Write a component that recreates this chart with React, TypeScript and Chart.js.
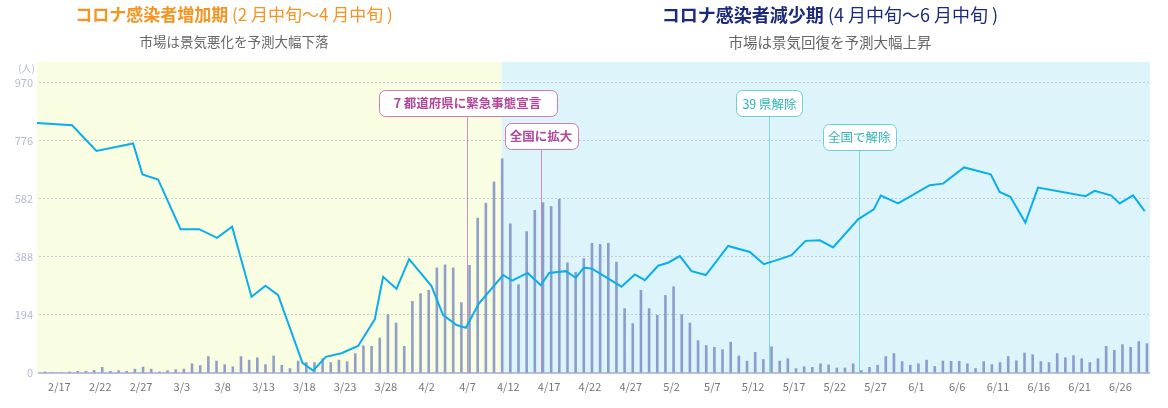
import React, { useEffect, useRef } from 'react';
import { Chart, registerables } from 'chart.js';

Chart.register(...registerables);

const FONT = '"Noto Sans CJK JP", "Noto Sans", sans-serif';

const categories = [
  '2/15','2/16','2/17','2/18','2/19','2/20','2/21','2/22','2/23','2/24','2/25','2/26','2/27','2/28','2/29',
  '3/1','3/2','3/3','3/4','3/5','3/6','3/7','3/8','3/9','3/10','3/11','3/12','3/13','3/14','3/15','3/16',
  '3/17','3/18','3/19','3/20','3/21','3/22','3/23','3/24','3/25','3/26','3/27','3/28','3/29','3/30','3/31',
  '4/1','4/2','4/3','4/4','4/5','4/6','4/7','4/8','4/9','4/10','4/11','4/12','4/13','4/14','4/15',
  '4/16','4/17','4/18','4/19','4/20','4/21','4/22','4/23','4/24','4/25','4/26','4/27','4/28','4/29','4/30',
  '5/1','5/2','5/3','5/4','5/5','5/6','5/7','5/8','5/9','5/10','5/11','5/12','5/13','5/14','5/15','5/16',
  '5/17','5/18','5/19','5/20','5/21','5/22','5/23','5/24','5/25','5/26','5/27','5/28','5/29','5/30','5/31',
  '6/1','6/2','6/3','6/4','6/5','6/6','6/7','6/8','6/9','6/10','6/11','6/12','6/13','6/14','6/15',
  '6/16','6/17','6/18','6/19','6/20','6/21','6/22','6/23','6/24','6/25','6/26','6/27','6/28','6/29',
];

// Daily new infections (人)
const dailyCases = [
  5, 3, 3, 5, 7, 7, 10, 20, 7, 9, 7, 14, 21, 14, 5,
  9, 12, 14, 32, 26, 56, 41, 29, 22, 56, 44, 52, 29, 58, 27, 16,
  41, 36, 36, 49, 36, 44, 39, 66, 92, 90, 118, 196, 168, 90, 240,
  266, 277, 352, 362, 352, 236, 360, 518, 568, 639, 716, 499, 296, 473, 544,
  570, 557, 581, 369, 337, 383, 434, 430, 434, 371, 216, 166, 277, 216, 194,
  260, 289, 196, 168, 109, 93, 87, 79, 104, 58, 41, 70, 46, 89, 41, 49,
  16, 22, 20, 32, 28, 18, 18, 32, 9, 20, 27, 56, 66, 39, 27,
  32, 44, 23, 41, 40, 40, 32, 16, 39, 29, 36, 56, 42, 68, 62,
  39, 36, 66, 52, 59, 49, 36, 49, 90, 77, 96, 87, 106, 99,
];

// Market index line (position in days from 2/15, level on the same axis)
const marketDays = [
  -0.75, 3.55, 6.54, 11.03, 12.18, 14.09, 16.84, 19.12, 21.32, 23.16, 25.54, 27.25, 28.8,
  31.78, 33.08, 34.64, 36.56, 38.6, 40.64, 41.66, 43.3, 44.85, 47.59, 49.01, 50.66, 51.8,
  53.39, 56.37, 57.47, 59.36, 60.99, 62, 64.05, 65.27, 66.25, 67.2, 70.87, 72.5, 73.73,
  75.36, 76.58, 78.02, 79.45, 81.2, 83.94, 86.59, 88.31, 90.27, 91.7, 93.42, 95.17, 96.8,
  99.86, 101.78, 102.64, 104.76, 108.64, 110.27, 112.85, 116.11, 117.2, 118.51, 120.35,
  121.9, 127.74, 128.84, 130.89, 131.91, 133.54, 134.97,
];
const marketLevels = [
  834, 827, 741, 766, 663, 646, 480, 480, 451, 488, 254, 291, 260,
  34, 8, 54, 66, 90, 179, 321, 281, 380, 290, 193, 160, 151,
  232, 327, 308, 334, 293, 334, 340, 318, 351, 349, 288, 329, 310,
  358, 368, 390, 340, 327, 424, 404, 363, 380, 393, 441, 443, 419,
  513, 546, 592, 566, 627, 632, 686, 663, 604, 588, 502,
  619, 590, 608, 592, 566, 593, 540,
];

const yTicks = [0, 194, 388, 582, 776, 970];
const yMax = 1038;
const xTickLabels = ['2/17','2/22','2/27','3/3','3/8','3/13','3/18','3/23','3/28','4/2','4/7','4/12','4/17','4/22','4/27','5/2','5/7','5/12','5/17','5/22','5/27','6/1','6/6','6/11','6/16','6/21','6/26'];

// Phase split (end of increasing phase)
const phaseSplitLabel = '4/11';
const phaseSplitOffset = 0.2;

// Events
const eventDates = ['4/7', '4/16', '5/14', '5/25'];
const eventTexts = ['7 都道府県に緊急事態宣言', '全国に拡大', '39 県解除', '全国で解除'];
const eventLevels = [902, 792, 900, 789];
const eventKinds = ['declare', 'declare', 'lift', 'lift'];

const eventStyles: Record<string, any> = {
  declare: { border: '#cd7cb8', text: '#b2479a', line: '#d48cc2', weight: 'bold' },
  lift: { border: '#6ccfd0', text: '#2db4b4', line: '#82d8d8', weight: 'normal' },
};
const eventPad = [15, 5, 6, 5];

const phaseBg = {
  id: 'phaseBg',
  beforeDraw(chart: any) {
    const { ctx, chartArea: a, scales } = chart;
    const x = scales.x;
    const split = x.getPixelForValue(categories.indexOf(phaseSplitLabel) + phaseSplitOffset);
    ctx.save();
    ctx.fillStyle = '#f9fde1';
    ctx.fillRect(a.left - 2, a.top, split - a.left + 2, a.bottom - a.top);
    ctx.fillStyle = '#ddf4fb';
    ctx.fillRect(split, a.top, a.right + 1 - split, a.bottom - a.top);
    // unit label
    ctx.fillStyle = '#b3b9d3';
    ctx.font = `10px ${FONT}`;
    ctx.textAlign = 'right';
    ctx.textBaseline = 'middle';
    ctx.fillText('(人)', a.left - 4, a.top + 6);
    ctx.restore();
  },
};

function boxGeom(chart: any, i: number) {
  const { ctx, scales } = chart;
  const st = eventStyles[eventKinds[i]];
  ctx.font = `${st.weight} 12.5px ${FONT}`;
  const w = ctx.measureText(eventTexts[i]).width + eventPad[i] * 2;
  const cx = scales.x.getPixelForValue(categories.indexOf(eventDates[i]));
  const cy = scales.y.getPixelForValue(eventLevels[i]);
  const h = 26;
  return { cx, cy, w, h, st };
}

const events = {
  id: 'events',
  beforeDatasetsDraw(chart: any) {
    const { ctx, chartArea: a } = chart;
    ctx.save();
    for (let i = 0; i < eventDates.length; i++) {
      const g = boxGeom(chart, i);
      const x = Math.round(g.cx) + 0.5;
      ctx.strokeStyle = g.st.line;
      ctx.lineWidth = 1;
      ctx.beginPath();
      ctx.moveTo(x, g.cy + g.h / 2);
      ctx.lineTo(x, a.bottom);
      ctx.stroke();
    }
    ctx.restore();
  },
  afterDatasetsDraw(chart: any) {
    const { ctx } = chart;
    ctx.save();
    for (let i = 0; i < eventDates.length; i++) {
      const g = boxGeom(chart, i);
      const left = Math.round(g.cx - g.w / 2) + 0.5;
      const top = Math.round(g.cy - g.h / 2) + 0.5;
      ctx.beginPath();
      (ctx as any).roundRect(left, top, Math.round(g.w), g.h, 6);
      ctx.fillStyle = '#ffffff';
      ctx.fill();
      ctx.strokeStyle = g.st.border;
      ctx.lineWidth = 1;
      ctx.stroke();
      ctx.fillStyle = g.st.text;
      ctx.font = `${g.st.weight} 12.5px ${FONT}`;
      ctx.textAlign = 'center';
      ctx.textBaseline = 'middle';
      ctx.fillText(eventTexts[i], g.cx, g.cy + 1);
    }
    ctx.restore();
  },
};

export default function App() {
  const ref = useRef<HTMLCanvasElement>(null);

  useEffect(() => {
    if (!ref.current) return;
    const chart = new Chart(ref.current, {
      type: 'bar',
      data: {
        labels: categories,
        datasets: [
          {
            type: 'line',
            label: 'market',
            data: marketDays.map((d, i) => ({ x: d, y: marketLevels[i] })),
            xAxisID: 'xl',
            yAxisID: 'y',
            borderColor: '#0aaeea',
            borderWidth: 2,
            pointRadius: 0,
            tension: 0,
            fill: false,
            order: 0,
            clip: false as any,
          } as any,
          {
            type: 'bar',
            label: 'cases',
            data: dailyCases,
            xAxisID: 'x',
            yAxisID: 'y',
            backgroundColor: 'rgba(112,130,192,0.76)',
            borderWidth: 0,
            barPercentage: 0.64,
            categoryPercentage: 1,
            order: 1,
          },
        ],
      },
      options: {
        responsive: false,
        animation: false,
        layout: { padding: { left: 0, right: 19, top: 62, bottom: 0 } },
        plugins: {
          legend: { display: false },
          tooltip: { enabled: false },
          title: { display: false },
        },
        scales: {
          x: {
            type: 'category',
            offset: true,
            grid: { display: false, drawTicks: false },
            border: { display: true, color: '#b8bfdc', width: 2 },
            ticks: {
              autoSkip: false,
              maxRotation: 0,
              minRotation: 0,
              padding: 7,
              color: '#777777',
              font: { size: 11, family: FONT },
              callback: (_v: any, i: number) => (xTickLabels.includes(categories[i]) ? categories[i] : null),
            },
            afterFit: (s: any) => { s.height = 35; },
          },
          xl: {
            type: 'linear',
            display: false,
            offset: false,
            grid: { offset: false },
            min: -0.5,
            max: categories.length - 0.5,
          },
          y: {
            type: 'linear',
            min: 0,
            max: yMax,
            afterBuildTicks: (s: any) => { s.ticks = yTicks.map((v) => ({ value: v })); },
            grid: {
              drawTicks: false,
              color: (c: any) => (c.tick && c.tick.value === 0 ? 'rgba(0,0,0,0)' : '#c6c9d6'),
              lineWidth: 1,
            },
            border: { display: false, dash: [2, 2] },
            ticks: {
              padding: 6,
              color: '#b3b9d3',
              font: { size: 11, family: FONT },
            },
            afterFit: (s: any) => { s.width = 39; },
          },
        },
      },
      plugins: [phaseBg, events],
    } as any);
    return () => chart.destroy();
  }, []);

  const titleBase: React.CSSProperties = {
    position: 'absolute',
    transform: 'translateX(-50%)',
    whiteSpace: 'nowrap',
    fontFamily: FONT,
    lineHeight: 1,
  };

  return (
    <div style={{ position: 'absolute', left: 0, top: 0, width: 1168, height: 408, background: '#ffffff', overflow: 'hidden' }}>
      <canvas ref={ref} width={1168} height={408} style={{ position: 'absolute', left: 0, top: 0 }} />
      <div style={{ ...titleBase, left: 234, top: 5, fontSize: 17, color: '#f7931e' }}>
        <span style={{ fontWeight: 'bold' }}>コロナ感染者増加期</span>
        <span> (2 月中旬〜4 月中旬 )</span>
      </div>
      <div style={{ ...titleBase, left: 234, top: 35, fontSize: 13.5, color: '#666666' }}>
        市場は景気悪化を予測大幅下落
      </div>
      <div style={{ ...titleBase, left: 830, top: 5, fontSize: 18, color: '#1b2a7f' }}>
        <span style={{ fontWeight: 'bold' }}>コロナ感染者減少期</span>
        <span> (4 月中旬〜6 月中旬 )</span>
      </div>
      <div style={{ ...titleBase, left: 830, top: 35, fontSize: 14.5, color: '#666666' }}>
        市場は景気回復を予測大幅上昇
      </div>
    </div>
  );
}
